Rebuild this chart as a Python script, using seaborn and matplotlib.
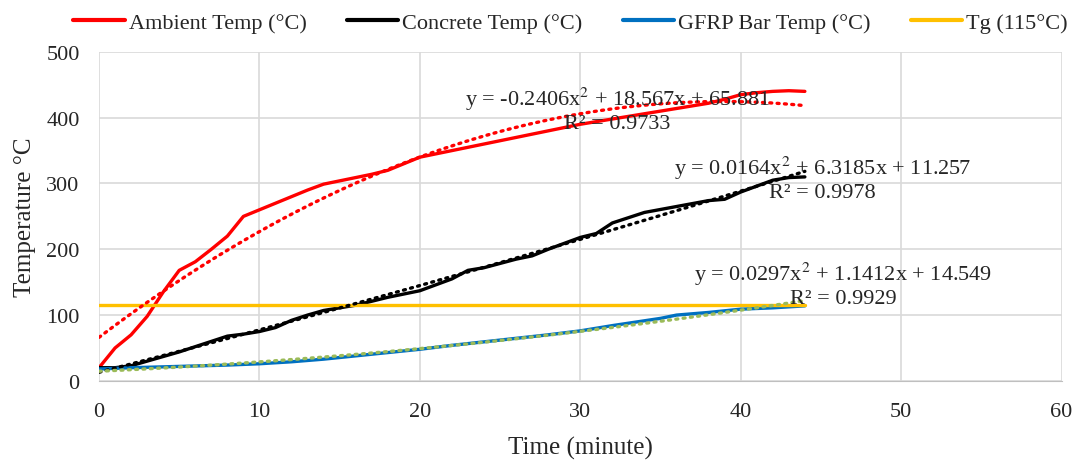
import numpy as np
import pandas as pd
import seaborn as sns
import matplotlib.pyplot as plt

sns.set_style("whitegrid")
plt.rcParams.update({"font.family": ["Liberation Serif", "DejaVu Serif"],
                     "font.size": 16,
                     "mathtext.fontset": "stix"})

# data (one reading per minute)
amb_t = list(range(0, 45))
amb_y = [20, 50, 70, 98, 135, 168, 181, 200, 220, 250, 260, 270, 280, 290, 299,
         304, 309, 314, 320, 330, 340, 345, 350, 355, 360, 365, 370, 375, 380, 385,
         390, 394, 398, 402, 406, 410, 414, 418, 422, 428, 435, 438, 440, 441, 440]

con_t = [0, 1, 2, 3, 4, 5, 6, 7, 8, 9, 10, 11, 12, 13, 14, 15, 16, 17, 18, 20, 22, 23, 24, 26, 27, 28, 30, 31, 32, 34, 36, 38, 39, 40, 42, 43, 44]
con_y = [20, 20, 23, 30, 37, 44, 52, 60, 68, 71, 75, 81, 92, 100, 107, 111, 115, 121, 127, 137, 155, 168, 172, 185, 190, 200, 218, 224, 240, 256, 265, 274, 276, 287, 305, 309, 310]

gfrp_t = [0, 2, 5, 8, 10, 12, 14, 16, 18, 20, 22, 25, 28, 30, 32, 35, 36, 38, 40, 42, 44]
gfrp_y = [18, 20, 22, 24, 26, 29, 33, 38, 43, 48, 54, 62, 70, 76, 84, 95, 100, 104, 109, 111, 114]

tg_t = [0, 44]
tg_y = [115, 115]

labels = ["Ambient Temp (°C)", "Concrete Temp (°C)", "GFRP Bar Temp (°C)", "Tg (115°C)"]
colors = ["#FF0000", "#000000", "#0070C0", "#FFC000"]
trend_colors = ["#FF0000", "#000000", "#9BBB59"]
eq_text = ["y = -0.2406x$^2$ + 18.567x + 65.881\nR² = 0.9733",
           "y = 0.0164x$^2$ + 6.3185x + 11.257\nR² = 0.9978",
           "y = 0.0297x$^2$ + 1.1412x + 14.549\nR² = 0.9929"]
eq_pos = [(32.3, 413), (45.1, 308), (46.4, 147)]

series = [(amb_t, amb_y), (con_t, con_y), (gfrp_t, gfrp_y), (tg_t, tg_y)]

fig = plt.figure(figsize=(10.81, 4.64), dpi=100)
ax = fig.add_axes([0.0916, 0.177, 0.8904, 0.709])

for (t, y), lab, c in zip(series, labels, colors):
    sns.lineplot(x=t, y=y, ax=ax, color=c, lw=2.4, label=lab, zorder=3)

# quadratic trendlines (dotted)
for (t, y), c in zip(series[:3], trend_colors):
    sns.regplot(x=np.array(t), y=np.array(y), order=2, ci=None, scatter=False, ax=ax,
                line_kws=dict(color=c, lw=2.4, ls=(0, (0.6, 1.6)), dash_capstyle="round", zorder=4))

for txt, (x, y) in zip(eq_text, eq_pos):
    ax.text(x, y, txt, ha="center", va="center", fontsize=16, linespacing=1.12, zorder=5)

ax.set_xlim(0, 60)
ax.set_ylim(0, 500)
ax.set_xticks(range(0, 61, 10))
ax.set_yticks(range(0, 501, 100))
ax.set_xlabel("Time (minute)", fontsize=18, labelpad=11)
ax.set_ylabel("Temperature °C", fontsize=18, labelpad=7)
ax.grid(True, color="#D9D9D9", lw=1.2)
for s in ["top", "right", "left"]:
    ax.spines[s].set_visible(False)
ax.spines["bottom"].set_color("#BFBFBF")
ax.tick_params(axis="both", length=5, color="#BFBFBF", labelsize=16)
ax.tick_params(axis="x", pad=10)
ax.tick_params(axis="y", pad=9)

leg = ax.legend(loc="lower center", bbox_to_anchor=(0.49, 1.03), ncol=4, frameon=False,
                handlelength=2.3, handletextpad=0.2, columnspacing=1.8, fontsize=16,
                borderaxespad=0)
for h in leg.get_lines():
    h.set_linewidth(3)

fig.savefig("out.png", dpi=100)
